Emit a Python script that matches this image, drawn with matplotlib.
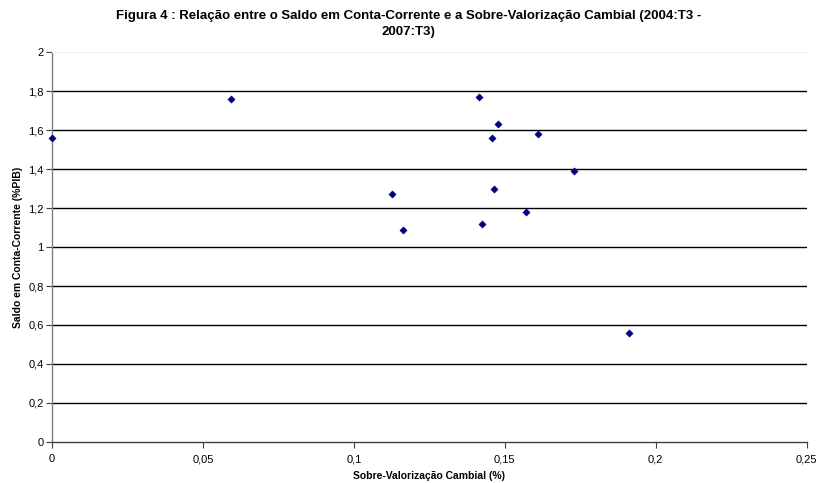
import matplotlib
matplotlib.use("Agg")
import matplotlib.pyplot as plt
from matplotlib.ticker import FuncFormatter

plt.rcParams['font.family'] = ['Liberation Sans', 'DejaVu Sans']

# Sobre-valorização cambial (%) vs saldo em conta-corrente (%PIB)
sobre_valorizacao = [0.0, 0.0593, 0.1127, 0.1163, 0.1414, 0.1423, 0.1458,
                     0.1465, 0.1479, 0.1570, 0.1610, 0.1728, 0.1912]
saldo_cc = [1.56, 1.76, 1.27, 1.09, 1.77, 1.12, 1.56,
            1.30, 1.63, 1.18, 1.58, 1.39, 0.56]

x_ticks = [0, 0.05, 0.1, 0.15, 0.2, 0.25]
y_ticks = [0, 0.2, 0.4, 0.6, 0.8, 1.0, 1.2, 1.4, 1.6, 1.8, 2.0]

titulo = ("Figura 4 : Relação entre o Saldo em Conta-Corrente e a Sobre-Valorização Cambial (2004:T3 -\n"
          "2007:T3)")

fig = plt.figure(figsize=(8.17, 4.83), dpi=100)
ax = fig.add_axes([52 / 817, 1 - 441.8 / 483, (806.7 - 52) / 817, (441.8 - 52.3) / 483])

ax.scatter(sobre_valorizacao, saldo_cc, marker='D', s=14, color='#000080',
           edgecolors='#000080', linewidths=0.3, zorder=3, clip_on=False)

ax.set_xlim(0, 0.25)
ax.set_ylim(0, 2)
ax.set_xticks(x_ticks)
ax.set_yticks(y_ticks)


def virgula(v, pos):
    s = f"{v:.2f}".rstrip('0').rstrip('.')
    return s.replace('.', ',')


ax.xaxis.set_major_formatter(FuncFormatter(virgula))
ax.yaxis.set_major_formatter(FuncFormatter(virgula))

for y in y_ticks[1:-1]:
    ax.axhline(y, color='black', linewidth=1.0, zorder=1)

ax.spines['top'].set_color('#f0f0f0')
ax.spines['top'].set_linewidth(0.8)
ax.spines['right'].set_visible(False)
ax.spines['left'].set_color('#808080')
ax.spines['left'].set_linewidth(1.0)
ax.spines['bottom'].set_color('#404040')
ax.spines['bottom'].set_linewidth(1.0)

ax.tick_params(axis='x', direction='out', length=4, width=0.8, color='#404040',
               labelsize=8, pad=5)
ax.tick_params(axis='y', direction='out', length=4, width=0.8, color='#404040',
               labelsize=8, pad=2)

ax.set_xlabel("Sobre-Valorização Cambial (%)", fontsize=7.5, fontweight='bold', labelpad=5)
ax.set_ylabel("Saldo em Conta-Corrente (%PIB)", fontsize=7.5, fontweight='bold', labelpad=4)

fig.text(0.5, 1 - 24 / 483, titulo, ha='center', va='center', fontsize=9.5,
         fontweight='bold', linespacing=1.45)

fig.savefig("out.png", dpi=100, facecolor='white')
